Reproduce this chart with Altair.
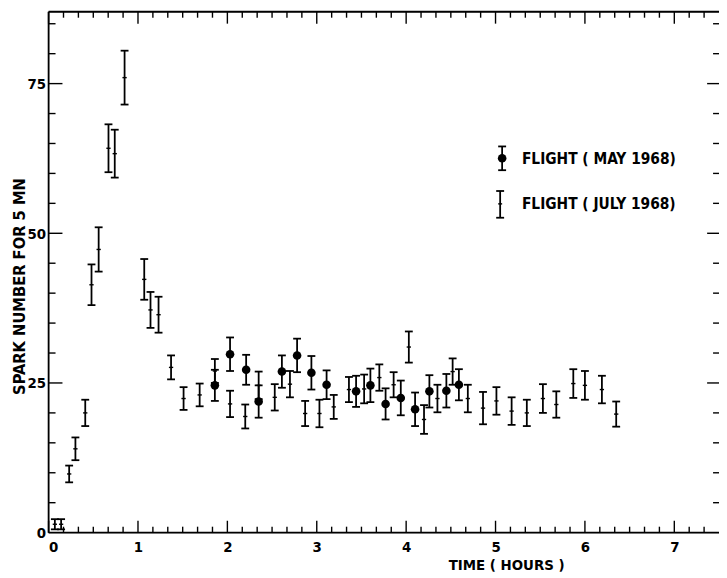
import altair as alt
import pandas as pd

# ---- data ----
july_t = [0.07, 0.14, 0.23, 0.30, 0.41, 0.48, 0.56, 0.67, 0.74, 0.85, 1.07, 1.14, 1.23, 1.37,
          1.51, 1.69, 1.86, 2.03, 2.20, 2.35, 2.53, 2.70, 2.87, 3.03, 3.19, 3.36, 3.53, 3.70,
          3.86, 4.03, 4.20, 4.35, 4.52, 4.69, 4.86, 5.01, 5.18, 5.35, 5.53, 5.68, 5.87, 6.00,
          6.19, 6.35]
july_v = [1.4, 1.4, 9.8, 14.0, 20.0, 41.4, 47.3, 64.2, 63.3, 76.0, 42.3, 37.2, 36.4, 27.6,
          22.4, 23.0, 27.0, 21.5, 19.4, 24.6, 22.6, 24.8, 19.9, 19.9, 21.0, 23.9, 24.0, 25.9,
          24.7, 31.0, 18.9, 22.4, 26.9, 22.4, 20.8, 22.0, 20.3, 20.0, 22.4, 21.4, 24.9, 24.6,
          23.9, 19.8]
july_e = [0.85, 0.85, 1.4, 1.9, 2.2, 3.4, 3.7, 4.0, 4.0, 4.5, 3.4, 3.0, 3.0, 2.0,
          1.9, 1.9, 2.0, 2.2, 2.0, 2.3, 2.2, 2.2, 2.1, 2.3, 2.0, 2.1, 2.4, 2.2,
          2.1, 2.6, 2.4, 2.3, 2.2, 2.3, 2.7, 2.3, 2.3, 2.2, 2.4, 2.2, 2.4, 2.4,
          2.3, 2.1]

may_t = [1.86, 2.03, 2.21, 2.35, 2.61, 2.78, 2.94, 3.11, 3.44, 3.60, 3.77, 3.94, 4.10, 4.26, 4.45, 4.59]
may_v = [24.6, 29.8, 27.2, 21.9, 26.9, 29.6, 26.7, 24.7, 23.6, 24.6, 21.5, 22.5, 20.6, 23.6, 23.7, 24.7]
may_e = [2.6, 2.8, 2.5, 2.7, 2.7, 2.8, 2.8, 2.4, 2.6, 2.8, 2.6, 2.9, 2.8, 2.7, 2.8, 2.6]

x_labels = [0, 1, 2, 3, 4, 5, 6, 7]
y_labels = [0, 25, 50, 75]
legend_labels = ["FLIGHT ( MAY 1968)", "FLIGHT ( JULY 1968)"]
x_title = "TIME ( HOURS )"
y_title = "SPARK NUMBER  FOR  5 MN"

# ---- layout ----
W, H = 677, 526
XMAX, YMAX = 7.5, 87
FONT = "DejaVu Sans Condensed"
INK = "black"
LW = 1.8

july = pd.DataFrame({"t": july_t, "v": july_v, "e": july_e})
may = pd.DataFrame({"t": may_t, "v": may_v, "e": may_e})

xs = alt.Scale(domain=[0, XMAX], nice=False, zero=False)
ys = alt.Scale(domain=[0, YMAX], nice=False, zero=False)

x_axis = alt.Axis(values=x_labels, ticks=False, domain=False, grid=False,
                  labelFont=FONT, labelFontSize=15, labelFontWeight="bold", labelColor=INK,
                  labelPadding=7, title=x_title, titleFont=FONT, titleFontSize=15,
                  titleFontWeight="bold", titleColor=INK, titleX=462, titleY=32,
                  titleBaseline="middle", titleAlign="center", titleAnchor="start")
y_axis = alt.Axis(values=y_labels, ticks=False, domain=False, grid=False,
                  labelFont=FONT, labelFontSize=15, labelFontWeight="bold", labelColor=INK,
                  labelPadding=3, title=y_title, titleFont=FONT, titleFontSize=16.5,
                  titleFontWeight="bold", titleColor=INK, titleX=-29, titleY=277,
                  titleAngle=270, titleBaseline="middle", titleAlign="center", titleAnchor="start")


def X(f):
    return alt.X(f, scale=xs, axis=x_axis)


def Y(f):
    return alt.Y(f, scale=ys, axis=y_axis)


CAP = 0.044
MID = 0.024


def errbars(df):
    base = alt.Chart(df).transform_calculate(
        lo="datum.v - datum.e", hi="datum.v + datum.e",
        a=f"datum.t - {CAP}", b=f"datum.t + {CAP}")
    stem = base.mark_rule(color=INK, strokeWidth=LW).encode(x=X("t:Q"), y=Y("lo:Q"), y2="hi:Q")
    top = base.mark_rule(color=INK, strokeWidth=LW).encode(x=X("a:Q"), x2="b:Q", y=Y("hi:Q"))
    bot = base.mark_rule(color=INK, strokeWidth=LW).encode(x=X("a:Q"), x2="b:Q", y=Y("lo:Q"))
    return [stem, top, bot]


july_layers = errbars(july)
july_mid = alt.Chart(july).transform_calculate(
    a=f"datum.t - {MID}", b=f"datum.t + {MID}").mark_rule(color=INK, strokeWidth=1.4).encode(
    x=X("a:Q"), x2="b:Q", y=Y("v:Q"))

may_layers = errbars(may)
may_dots = alt.Chart(may).mark_circle(color=INK, opacity=1, size=75).encode(x=X("t:Q"), y=Y("v:Q"))

# ---- frame and inward ticks ----
one = alt.Data(values=[{}])
frame = [
    alt.Chart(one).mark_rule(color=INK, strokeWidth=LW).encode(x=alt.value(0), x2=alt.value(W), y=alt.value(H)),
    alt.Chart(one).mark_rule(color=INK, strokeWidth=LW).encode(x=alt.value(0), x2=alt.value(W), y=alt.value(0)),
    alt.Chart(one).mark_rule(color=INK, strokeWidth=LW).encode(x=alt.value(0), y=alt.value(0), y2=alt.value(H)),
]

x_minor = [i / 6 for i in range(0, 45) if i % 6 != 0]
x_major = [float(i) for i in range(0, 8)]
y_minor = [v for v in range(5, 87, 5) if v % 25 != 0]
y_major = [25, 50, 75]

xmin_df = pd.DataFrame({"t": x_minor})
xmaj_df = pd.DataFrame({"t": x_major})
ymin_df = pd.DataFrame({"v": y_minor})
ymaj_df = pd.DataFrame({"v": y_major})


def xticks(df, length):
    return [
        alt.Chart(df).mark_rule(color=INK, strokeWidth=1.4).encode(x=X("t:Q"), y=alt.value(H), y2=alt.value(H - length)),
        alt.Chart(df).mark_rule(color=INK, strokeWidth=1.4).encode(x=X("t:Q"), y=alt.value(0), y2=alt.value(length)),
    ]


def yticks(df, length_left, length_right):
    return [
        alt.Chart(df).mark_rule(color=INK, strokeWidth=1.4).encode(y=Y("v:Q"), x=alt.value(0), x2=alt.value(length_left)),
        alt.Chart(df).mark_rule(color=INK, strokeWidth=1.4).encode(y=Y("v:Q"), x=alt.value(W), x2=alt.value(W - length_right)),
    ]


ticks = xticks(xmin_df, 6) + xticks(xmaj_df, 12) + yticks(ymin_df, 7, 6) + yticks(ymaj_df, 14, 12)

# ---- legend (drawn by hand, positioned in plot pixels) ----
LX1, LX2 = 458, 456
lg = [
    alt.Chart(one).mark_rule(color=INK, strokeWidth=LW).encode(x=alt.value(LX1), y=alt.value(136), y2=alt.value(160)),
    alt.Chart(one).mark_rule(color=INK, strokeWidth=LW).encode(x=alt.value(LX1 - 4), x2=alt.value(LX1 + 4), y=alt.value(136)),
    alt.Chart(one).mark_rule(color=INK, strokeWidth=LW).encode(x=alt.value(LX1 - 4), x2=alt.value(LX1 + 4), y=alt.value(160)),
    alt.Chart(one).mark_circle(color=INK, opacity=1, size=75).encode(x=alt.value(LX1), y=alt.value(148)),
    alt.Chart(one).mark_rule(color=INK, strokeWidth=LW).encode(x=alt.value(LX2), y=alt.value(181), y2=alt.value(208)),
    alt.Chart(one).mark_rule(color=INK, strokeWidth=LW).encode(x=alt.value(LX2 - 4), x2=alt.value(LX2 + 4), y=alt.value(181)),
    alt.Chart(one).mark_rule(color=INK, strokeWidth=LW).encode(x=alt.value(LX2 - 4), x2=alt.value(LX2 + 4), y=alt.value(208)),
    alt.Chart(one).mark_rule(color=INK, strokeWidth=1.4).encode(x=alt.value(LX2 - 2), x2=alt.value(LX2 + 2), y=alt.value(194)),
    alt.Chart(one).mark_text(font=FONT, fontSize=15.5, fontWeight="bold", color=INK, align="left",
                             baseline="middle").encode(x=alt.value(478), y=alt.value(149),
                                                       text=alt.value(legend_labels[0])),
    alt.Chart(one).mark_text(font=FONT, fontSize=15.5, fontWeight="bold", color=INK, align="left",
                             baseline="middle").encode(x=alt.value(478), y=alt.value(194),
                                                       text=alt.value(legend_labels[1])),
]

chart = alt.layer(
    *july_layers, july_mid, *may_layers, may_dots, *frame, *ticks, *lg
).properties(
    width=W, height=H,
    autosize=alt.AutoSizeParams(type="none"),
    padding={"left": 41, "top": 1, "right": 0, "bottom": 42},
).configure_view(stroke=None).configure(background="white")

chart.save("out.html", embed_options={"renderer": "svg", "actions": False})
